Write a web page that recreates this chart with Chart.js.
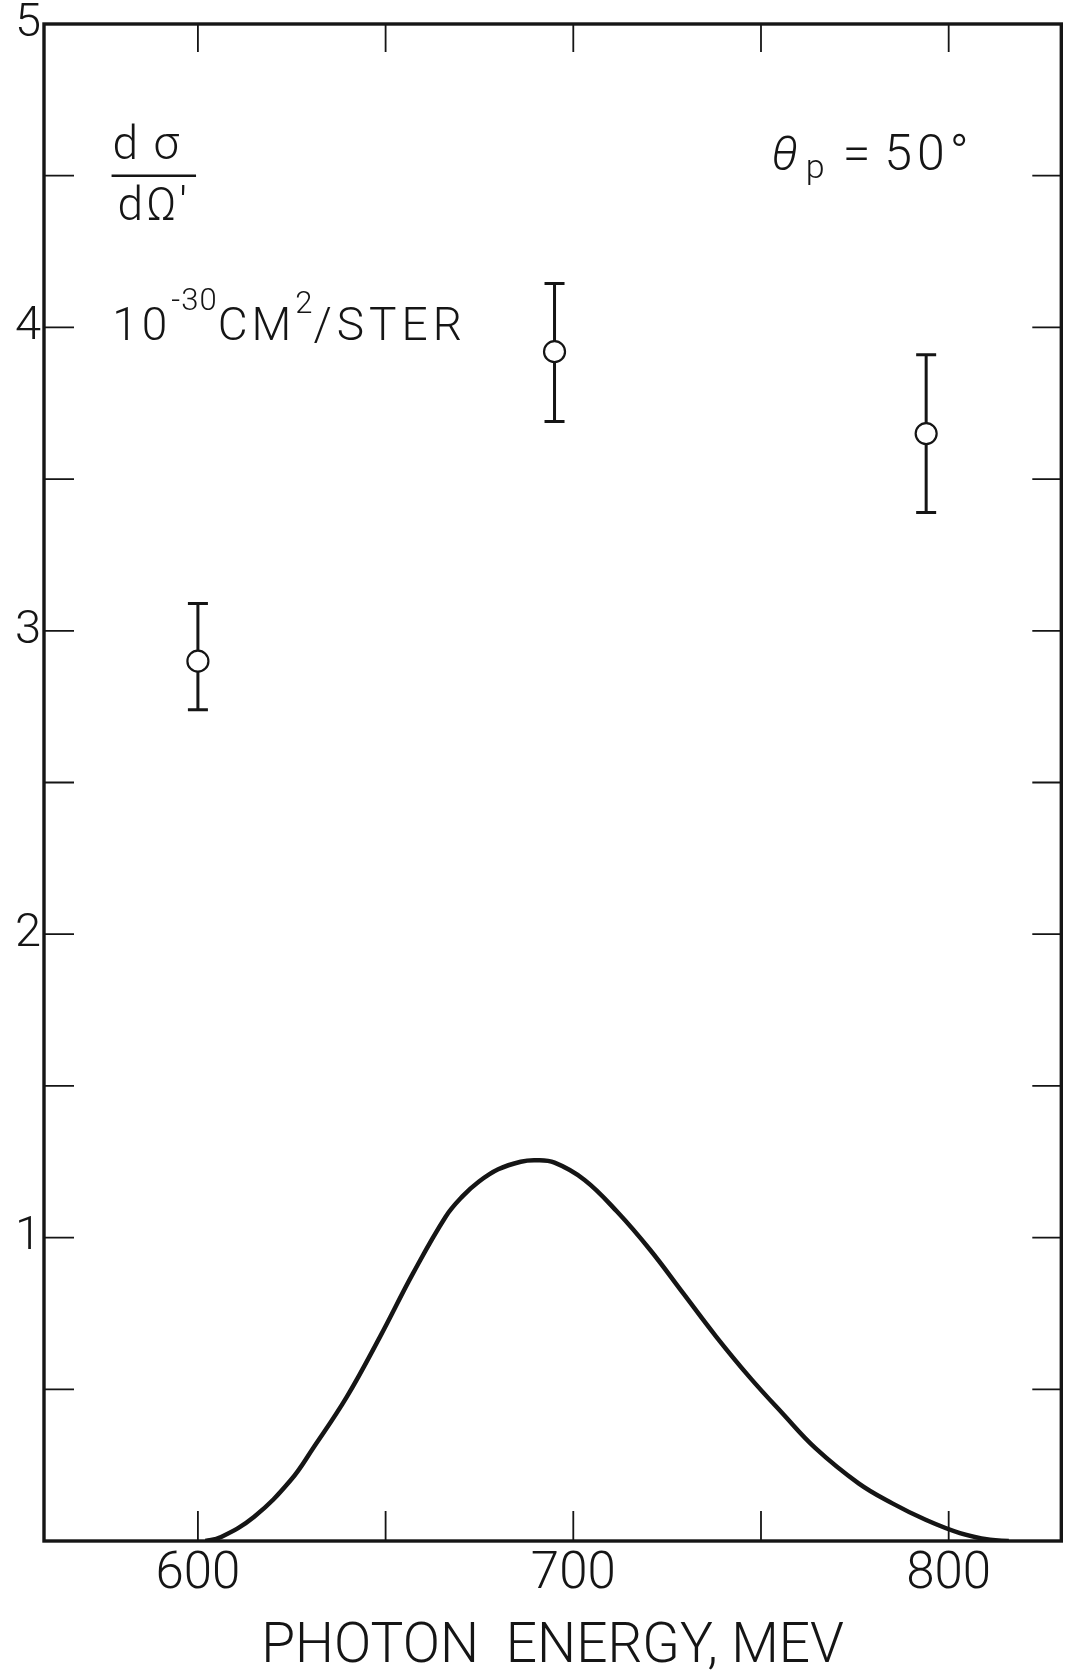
<!DOCTYPE html>
<html>
<head>
<meta charset="utf-8">
<title>Photon energy vs cross section</title>
<script src="https://cdn.jsdelivr.net/npm/chart.js@4.4.1/dist/chart.umd.min.js"></script>
<style>
  body { margin: 0; background: #fff; }
  canvas { display: block; }
</style>
</head>
<body>
<canvas id="xsecChart" width="1074" height="1676"></canvas>
<script>
// measured points (MeV, 10^-30 cm^2/ster)
let energies = [600, 695, 794];
let crossSections = [2.90, 3.92, 3.65];
let errLow = [2.74, 3.69, 3.39];
let errHigh = [3.09, 4.145, 3.91];

// calculated curve
let curveEnergies = [602, 606, 615, 624.7, 630.9, 639.7, 648.5, 657.3, 666, 670.4, 674.8, 680, 686, 690, 695, 703, 711.7, 720.5, 729.3, 738.1, 746.9, 755.7, 764.5, 776, 785, 794, 803, 811, 816];
let curveValues = [0, 0.012, 0.08, 0.20, 0.31, 0.476, 0.673, 0.882, 1.069, 1.135, 1.184, 1.225, 1.25, 1.255, 1.247, 1.19, 1.085, 0.959, 0.816, 0.673, 0.541, 0.421, 0.306, 0.19, 0.124, 0.069, 0.026, 0.004, 0];

let xTickLabels = [600, 700, 800];
let yTickLabels = [1, 2, 3, 4, 5];

const INK = "#151515";
const FONT = 'Roboto, "DejaVu Sans", sans-serif';

// box around the plot with inward ticks on all four sides
const frameTicks = {
    id: "frameTicks",
    afterDatasetsDraw(chart) {
        const { ctx, chartArea: a, scales: { x, y } } = chart;
        ctx.save();
        ctx.strokeStyle = INK;
        ctx.lineWidth = 1.8;
        ctx.beginPath();
        x.ticks.forEach(t => {
            const px = x.getPixelForValue(t.value);
            ctx.moveTo(px, a.bottom); ctx.lineTo(px, a.bottom - 30);
            ctx.moveTo(px, a.top); ctx.lineTo(px, a.top + 28);
        });
        y.ticks.forEach(t => {
            if (t.value <= 0 || t.value >= 5) return;
            const py = y.getPixelForValue(t.value);
            ctx.moveTo(a.left, py); ctx.lineTo(a.left + 30, py);
            ctx.moveTo(a.right, py); ctx.lineTo(a.right - 29, py);
        });
        ctx.stroke();
        ctx.lineWidth = 3.4;
        ctx.strokeRect(a.left, a.top, a.right - a.left, a.bottom - a.top);
        ctx.restore();
    }
};

// vertical error bars with caps, drawn under the open circles
const errorBars = {
    id: "errorBars",
    beforeDatasetsDraw(chart) {
        const { ctx, scales: { x, y } } = chart;
        ctx.save();
        ctx.strokeStyle = INK;
        ctx.lineWidth = 3;
        energies.forEach((e, i) => {
            const px = x.getPixelForValue(e);
            const top = y.getPixelForValue(errHigh[i]);
            const bot = y.getPixelForValue(errLow[i]);
            ctx.beginPath();
            ctx.moveTo(px, top); ctx.lineTo(px, bot);
            ctx.moveTo(px - 10, top); ctx.lineTo(px + 10, top);
            ctx.moveTo(px - 10, bot); ctx.lineTo(px + 10, bot);
            ctx.stroke();
        });
        ctx.restore();
    }
};

// labels written inside the plot
const plotText = {
    id: "plotText",
    afterDraw(chart) {
        const { ctx, scales: { x, y } } = chart;
        ctx.save();
        ctx.fillStyle = INK;
        ctx.strokeStyle = INK;
        ctx.textBaseline = "alphabetic";
        ctx.textAlign = "left";

        // d sigma / d Omega'
        const fx1 = x.getPixelForValue(577), fx2 = x.getPixelForValue(599.5);
        const fy = y.getPixelForValue(4.5);
        ctx.lineWidth = 2.6;
        ctx.beginPath(); ctx.moveTo(fx1, fy); ctx.lineTo(fx2, fy); ctx.stroke();
        ctx.font = "300 46px " + FONT;
        ctx.letterSpacing = "3px";
        ctx.fillText("d\u2009σ", fx1 + 1, fy - 17);
        ctx.fillText("dΩ'", fx1 + 6, fy + 44);

        // units line
        let ux = x.getPixelForValue(577.2);
        const uy = y.getPixelForValue(3.96);
        const parts = [
            ["10", 46, 0, 4], ["-30", 31, -30, 1], ["CM", 46, 0, 4], ["2", 31, -27, 1], ["/STER", 46, 0, 5]
        ];
        parts.forEach(([txt, size, dy, sp]) => {
            ctx.letterSpacing = sp + "px";
            ctx.font = "300 " + size + "px " + FONT;
            ctx.fillText(txt, ux, uy + dy);
            ux += ctx.measureText(txt).width;
        });
        ctx.letterSpacing = "0px";

        // theta_p = 50 deg
        let tx = x.getPixelForValue(752.7);
        const ty = y.getPixelForValue(4.52);
        ctx.font = "italic 300 48px " + FONT;
        ctx.fillText("θ", tx, ty);
        tx += ctx.measureText("θ").width + 8;
        ctx.font = "300 34px " + FONT;
        ctx.fillText("p", tx, ty + 8);
        tx += ctx.measureText("p").width + 18;
        ctx.font = "300 50px " + FONT;
        ctx.fillText("=", tx, ty);
        tx += ctx.measureText("=").width + 14;
        ctx.letterSpacing = "5px";
        ctx.fillText("50°", tx, ty);
        ctx.restore();
    }
};

let ctx = document.getElementById("xsecChart").getContext("2d");
let xsecChart = new Chart(ctx, {
    type: "scatter",
    data: {
        datasets: [{
            label: "measured",
            data: energies.map((e, i) => ({ x: e, y: crossSections[i] })),
            pointRadius: 10.5,
            pointBorderWidth: 2.2,
            pointBackgroundColor: "#fff",
            pointBorderColor: INK,
            order: 0
        }, {
            label: "calculated",
            data: curveEnergies.map((e, i) => ({ x: e, y: curveValues[i] })),
            showLine: true,
            borderColor: INK,
            borderWidth: 4.5,
            pointRadius: 0,
            tension: 0.4,
            order: 1
        }]
    },
    options: {
        responsive: false,
        animation: false,
        layout: { padding: { top: 24, right: 2, left: 0, bottom: 0 } },
        plugins: { legend: { display: false }, tooltip: { enabled: false } },
        scales: {
            x: {
                type: "linear",
                min: 559,
                max: 830,
                grid: { display: false },
                border: { display: false },
                ticks: {
                    stepSize: 50,
                    includeBounds: false,
                    autoSkip: false,
                    maxRotation: 0,
                    padding: 1,
                    color: INK,
                    font: { family: FONT, size: 51, weight: 300, lineHeight: 1 },
                    callback: v => xTickLabels.includes(v) ? String(v) : ""
                },
                title: {
                    display: true,
                    text: "PHOTON  ENERGY, MEV",
                    color: INK,
                    padding: 0,
                    font: { family: FONT, size: 55, weight: 300, lineHeight: 1 }
                },
                afterFit(scale) {
                    scale.height = 135;
                    scale.paddingLeft = 0;
                    scale.paddingRight = 0;
                }
            },
            y: {
                min: 0,
                max: 5,
                grid: { display: false },
                border: { display: false },
                ticks: {
                    stepSize: 0.5,
                    autoSkip: false,
                    padding: -5,
                    color: INK,
                    font: { family: FONT, size: 47, weight: 300 },
                    callback: v => yTickLabels.includes(v) ? String(v) : ""
                },
                afterFit(scale) {
                    scale.width = 44;
                    scale.paddingTop = 0;
                    scale.paddingBottom = 0;
                }
            }
        }
    },
    plugins: [errorBars, frameTicks, plotText]
});
</script>
</body>
</html>
